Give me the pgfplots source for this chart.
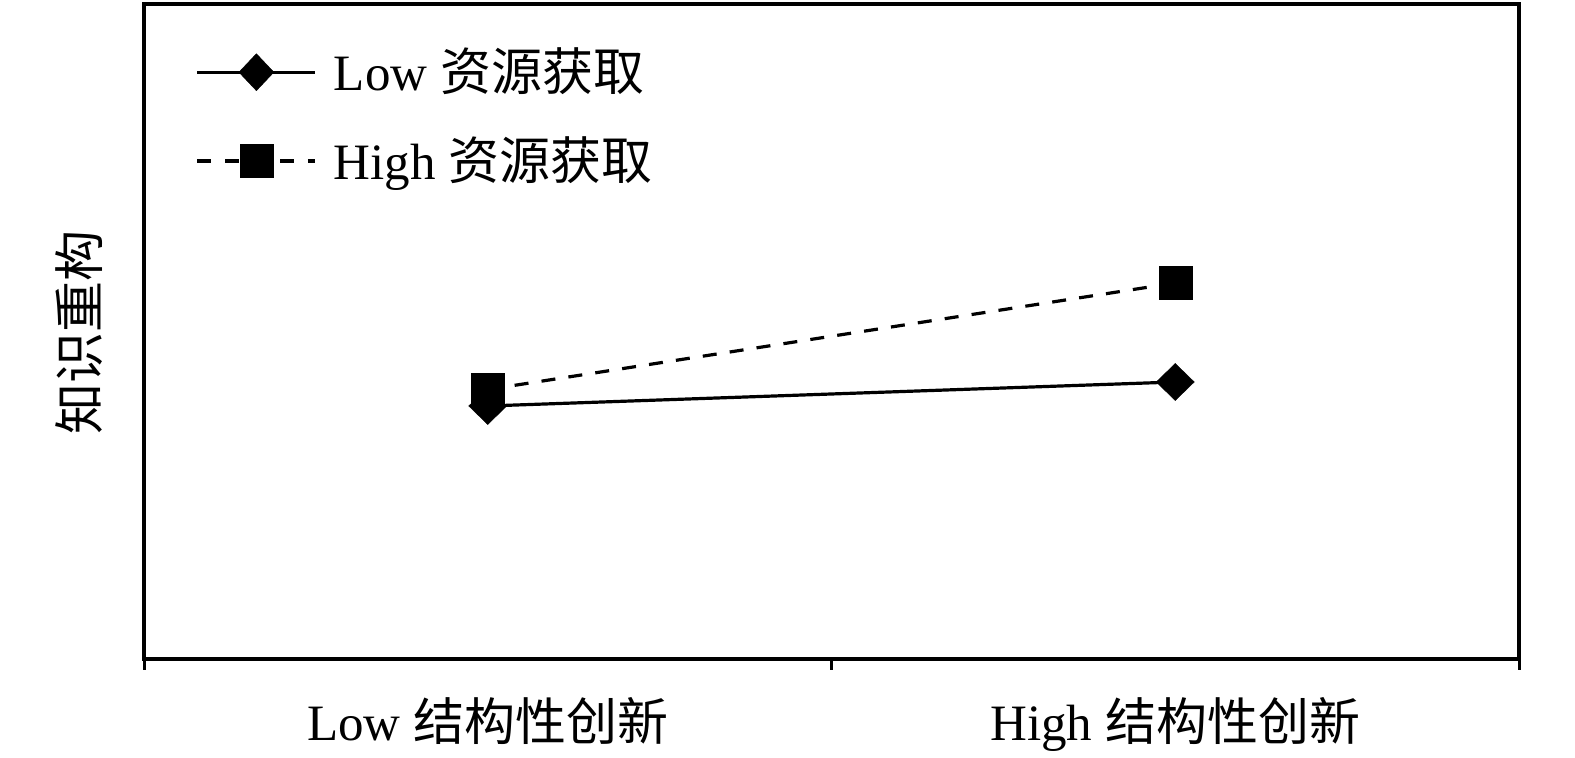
\documentclass[border=0pt]{standalone}
\usepackage{fontspec}
\setmainfont{Liberation Serif}
\newfontfamily\cjk{Noto Sans CJK SC}
\newcommand{\zh}[1]{{\cjk #1}}
\usepackage{pgfplots}
\pgfplotsset{compat=1.18}
\begin{document}
\begin{tikzpicture}
\begin{axis}[
  scale only axis,
  width=343.75pt, height=163.75pt,
  xmin=0, xmax=2, ymin=0, ymax=655,
  axis line style={line width=0.8pt},
  xtick={0.5,1.5},
  xticklabels={Low \zh{结构性创新}, High \zh{结构性创新}},
  major tick length=0pt,
  minor xtick={0,1,2},
  minor tick length=2.75pt,
  tick align=outside,
  xtick pos=bottom,
  ytick=\empty,
  minor tick style={line width=0.75pt, black},
  tick label style={font=\fontsize{12.75}{15}\selectfont},
  xticklabel style={anchor=base, yshift=-20.5pt, inner sep=0pt},
  ylabel={\zh{知识重构}},
  label style={font=\fontsize{12.75}{15}\selectfont},
  ylabel style={at={(axis description cs:0,0.498)}, anchor=center, yshift=16.25pt, inner sep=0pt},
  legend style={draw=none, fill=none, at={(axis description cs:0,1)},
    anchor=north west, xshift=12.75pt, yshift=-10.75pt,
    inner sep=0pt, nodes={inner sep=0pt}, row sep=10pt, column sep=4.25pt,
    font=\fontsize{12.75}{15}\selectfont},
  legend cell align=left,
  legend image code/.code={\draw[mark repeat=2,mark phase=2,#1] plot coordinates {(0pt,0pt) (14.75pt,0pt) (29.5pt,0pt)};},
]
\addlegendimage{black, line width=0.8pt, solid, mark=diamond*, mark size=4.625pt,
  mark options={solid, fill=black, xscale=1.26, line width=0.1pt}}
\addlegendentry{Low \zh{资源获取}}
\addlegendimage{black, line width=0.8pt, dash pattern=on 3.5pt off 3.4pt, mark=square*, mark size=4.1pt,
  mark options={solid, fill=black, line width=0.1pt}}
\addlegendentry{High \zh{资源获取}}

\addplot[forget plot, black, line width=0.8pt, solid, mark=diamond*, mark size=4.625pt,
  mark options={solid, fill=black, xscale=1.37, line width=0.1pt}] coordinates {
  (0.5,253) (1.5,277)
};
\addplot[forget plot, black, line width=0.8pt, dash pattern=on 3.5pt off 3.3pt, mark=square*, mark size=4.125pt,
  mark options={solid, fill=black, line width=0.1pt}] coordinates {
  (0.5,269.5) (1.5,376)
};
\end{axis}
\path (-36pt,-24.75pt) rectangle (357.75pt,164.75pt);
\end{tikzpicture}
\end{document}
